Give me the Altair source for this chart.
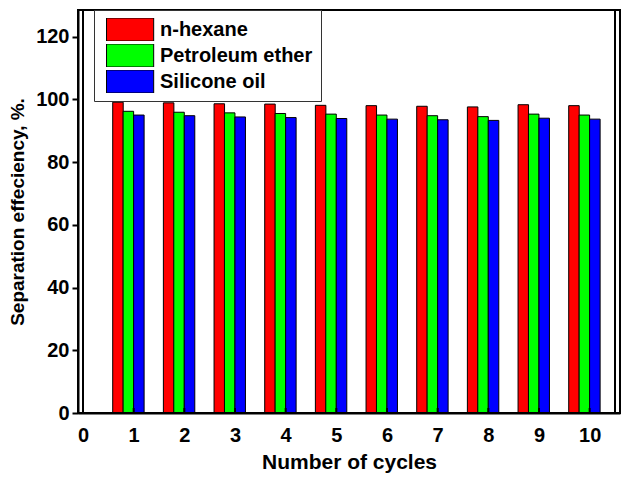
import altair as alt
import pandas as pd

cycles = [1, 2, 3, 4, 5, 6, 7, 8, 9, 10]
series_names = ["n-hexane", "Petroleum ether", "Silicone oil"]
n_hexane = [99.1, 98.9, 98.6, 98.5, 98.1, 98.0, 97.8, 97.6, 98.3, 98.0]
petroleum_ether = [96.2, 95.9, 95.7, 95.5, 95.3, 95.0, 94.8, 94.5, 95.3, 95.0]
silicone_oil = [95.0, 94.8, 94.4, 94.2, 93.9, 93.7, 93.5, 93.3, 94.0, 93.7]
colors = ["#ff0000", "#00ff00", "#0000ff"]
x_ticks = [0, 1, 2, 3, 4, 5, 6, 7, 8, 9, 10]
y_ticks = [0, 20, 40, 60, 80, 100, 120]
x_range = [0, 10.5]
y_range = [0, 128.5]

rows = []
for name, vals in zip(series_names, [n_hexane, petroleum_ether, silicone_oil]):
    for c, v in zip(cycles, vals):
        rows.append({"cycle": c, "series": name, "value": v})
df = pd.DataFrame(rows)
ticks_df = pd.DataFrame({"cycle": x_ticks})
frame_df = pd.DataFrame({"x0": [x_range[0]], "x1": [x_range[1]], "y0": [y_range[0]], "y1": [y_range[1]]})

FONT = "Liberation Sans"

color = alt.Color(
    "series:N",
    scale=alt.Scale(domain=series_names, range=colors),
    legend=alt.Legend(
        title=None,
        orient="none",
        legendX=16,
        legendY=0,
        symbolType="M-0.65,-1H3.45V1H-0.65Z",
        symbolSize=529,
        symbolStrokeColor="black",
        symbolStrokeWidth=1,
        symbolOpacity=1,
        labelFont=FONT,
        labelFontSize=20,
        labelFontWeight="bold",
        labelColor="black",
        labelOffset=34,
        clipHeight=23,
        rowPadding=3,
        padding=8,
        strokeColor="#333333",
        fillColor="white",
        labelLimit=300,
    ),
)

xscale = alt.Scale(domain=x_range, nice=False)
yscale = alt.Scale(domain=y_range, nice=False)

x = alt.X(
    "cycle:Q",
    scale=xscale,
    axis=alt.Axis(
        values=x_ticks,
        title="Number of cycles",
        format="d",
        ticks=False,
        domain=True,
        domainColor="black",
        domainWidth=2,
        grid=False,
        labelFont=FONT,
        labelFontSize=20,
        labelFontWeight="bold",
        labelColor="black",
        labelPadding=12,
        titleFont=FONT,
        titleFontSize=21,
        titleFontWeight="bold",
        titleColor="black",
        titlePadding=6,
        labelFlush=False,
        labelOverlap=False,
    ),
)
y = alt.Y(
    "value:Q",
    scale=yscale,
    axis=alt.Axis(
        values=y_ticks,
        title="Separation effeciency, %.",
        tickSize=6,
        tickColor="black",
        tickWidth=2,
        domain=True,
        domainColor="black",
        domainWidth=2,
        grid=False,
        labelFont=FONT,
        labelFontSize=20,
        labelFontWeight="bold",
        labelColor="black",
        labelPadding=3,
        titleFont=FONT,
        titleFontSize=19,
        titleFontWeight="bold",
        titleColor="black",
        titlePadding=8,
    ),
)

offsets = [-15.7, -5.3, 5.2]
layers = []
for name, off in zip(series_names, offsets):
    layers.append(
        alt.Chart(df)
        .transform_filter(alt.datum.series == name)
        .mark_bar(size=10.5, xOffset=off, stroke="black", strokeWidth=1)
        .encode(x=x, y=y, color=color)
    )

inner_ticks = (
    alt.Chart(ticks_df)
    .mark_rule(color="black", strokeWidth=2)
    .encode(x=alt.X("cycle:Q"), y=alt.Y(datum=0), y2=alt.Y2(datum=1.6))
)

frame = (
    alt.Chart(frame_df)
    .mark_rect(fill="transparent", stroke="black", strokeWidth=2)
    .encode(
        x=alt.X("x0:Q"), x2="x1:Q",
        y=alt.Y("y0:Q"), y2="y1:Q",
    )
)

chart = (
    alt.layer(*layers, inner_ticks, frame)
    .properties(
        width=614,
        height=465,
        autosize=alt.AutoSizeParams(type="fit", contains="padding"),
        padding={"left": 0, "top": 1, "right": 2, "bottom": 1},
    )
    .configure(background="white", view=alt.ViewConfig(stroke="black", strokeWidth=2))
)

chart.save("out.html", embed_options={"renderer": "svg", "actions": False})
